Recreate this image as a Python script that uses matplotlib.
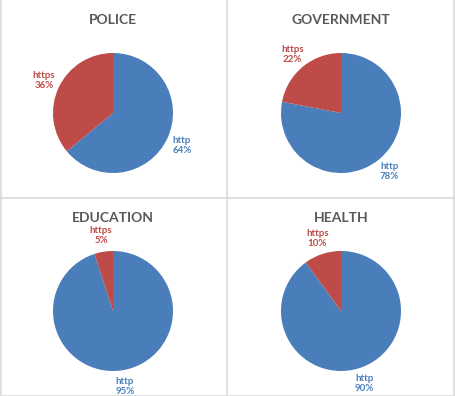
import matplotlib.pyplot as plt
from matplotlib.lines import Line2D

sectors = ["POLICE", "GOVERNMENT", "EDUCATION", "HEALTH"]
protocols = ["http", "https"]
http_pct = [64, 78, 95, 90]
https_pct = [36, 22, 5, 10]

COLORS = {"http": "#4A7EBB", "https": "#BE4B48"}
W, H = 455, 396

plt.rcParams["font.family"] = ["Lato", "DejaVu Sans"]

fig = plt.figure(figsize=(W / 100, H / 100), dpi=100)

# panel frames (light grey grid lines like the Excel chart borders)
for x0, y0, x1, y1 in [(0.5, 0, 0.5, H), (W - 1, 0, W - 1, H), (0, H - 0.5, W, H - 0.5),
                       (227, 0, 227, H), (0, 198, W, 198)]:
    fig.add_artist(Line2D([x0 / W, x1 / W], [1 - y0 / H, 1 - y1 / H], color="#D9D9D9", lw=1.2))

# pie centres in pixels (x, y from top), radius 60px
centres = [(113, 113), (341, 113), (113, 311), (341, 311)]
R = 60
half = 85  # half size of the axes box, px

for name, c, v_http, v_https in zip(sectors, centres, http_pct, https_pct):
    cx, cy = c
    ax = fig.add_axes([(cx - half) / W, 1 - (cy + half) / H, 2 * half / W, 2 * half / H])
    vals = [v_http, v_https]
    wedges, texts = ax.pie(
        vals,
        colors=[COLORS[p] for p in protocols],
        startangle=90,
        counterclock=False,
        labels=[f"{p}\n{v}%" for p, v in zip(protocols, vals)],
        labeldistance=1.27,
        textprops=dict(fontsize=7, fontweight="bold"),
        wedgeprops=dict(linewidth=0),
    )
    for t, p in zip(texts, protocols):
        t.set_color(COLORS[p])
        t.set_ha("center")
        t.set_va("center")
    lim = half / R
    ax.set_xlim(-lim, lim)
    ax.set_ylim(-lim, lim)
    ax.set_aspect("equal")
    ax.axis("off")
    fig.text(cx / W, 1 - (cy - 93) / H, name, ha="center", va="center",
             fontsize=10, fontweight="bold", color="#595959")

plt.savefig("out.png", dpi=100)
